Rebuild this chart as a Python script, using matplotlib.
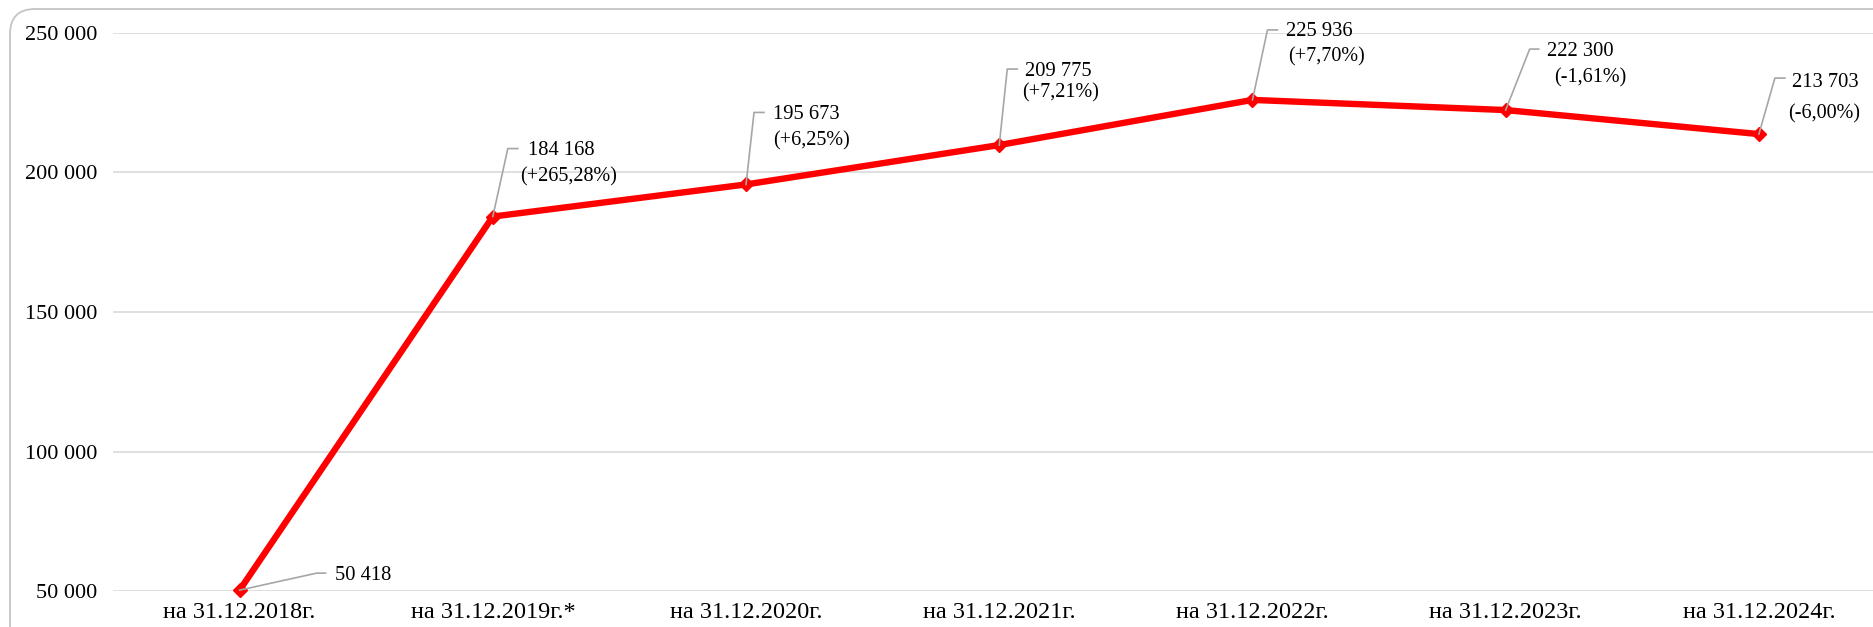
import matplotlib
matplotlib.use("Agg")
import matplotlib.pyplot as plt
from matplotlib.lines import Line2D
from matplotlib.patches import FancyBboxPatch
from matplotlib.transforms import IdentityTransform
from matplotlib.ticker import FuncFormatter

# data
dates = ["на 31.12.2018г.", "на 31.12.2019г.*", "на 31.12.2020г.", "на 31.12.2021г.",
         "на 31.12.2022г.", "на 31.12.2023г.", "на 31.12.2024г."]
values = [50418, 184168, 195673, 209775, 225936, 222300, 213703]
changes = ["", "(+265,28%)", "(+6,25%)", "(+7,21%)", "(+7,70%)", "(-1,61%)", "(-6,00%)"]

# label layout, in pixels from each point: value text, change text, leader knee and end
val_off = [(95, 15), (35, 66), (27, 70), (26, 74), (34, 68), (41, 59), (33, 52)]
chg_off = [(0, 0), (27, 40), (27, 44), (23, 52), (36, 43), (48, 32), (29, 20)]
knee_off = [(77, 17), (15, 68), (8, 72), (8, 76), (15, 70), (24, 61), (16, 56)]
end_dx = [86, 25, 18, 18, 25, 33, 26]

plt.rcParams['font.family'] = ['Liberation Serif', 'DejaVu Serif']

W, H = 1873, 627
fig = plt.figure(figsize=(W / 100, H / 100), dpi=100)
ax = fig.add_axes([113 / W, 35.7 / H, 1772.5 / W, 558.6 / H])

x = list(range(len(values)))
ax.plot(x, values, color="#ff0000", lw=4.6, marker="D", ms=7.5, zorder=3,
        solid_joinstyle="round", clip_on=False)

ax.set_xlim(-0.5, len(values) - 0.5)
ax.set_ylim(50000, 250000)
ax.set_yticks([50000, 100000, 150000, 200000, 250000])
ax.yaxis.set_major_formatter(FuncFormatter(lambda v, p: f"{v:,.0f}".replace(",", " ")))
ax.set_xticks(x)
ax.set_xticklabels(dates)
ax.tick_params(axis="y", length=0, pad=11, labelsize=16)
ax.tick_params(axis="x", length=0, pad=8, labelsize=17.5)
ax.grid(axis="y", color="#d9d9d9", lw=1.2)
ax.set_axisbelow(True)
for s in ax.spines.values():
    s.set_visible(False)

# data labels with leader lines
for i, v in enumerate(values):
    px, py = ax.transData.transform((i, v))
    kx, ky = knee_off[i]
    fig.add_artist(Line2D([px, px + kx, px + end_dx[i]], [py, py + ky, py + ky],
                          color="#a6a6a6", lw=1.2, transform=IdentityTransform(), zorder=4))
    ax.annotate(f"{v:,}".replace(",", " "), xy=(i, v), xytext=val_off[i],
                textcoords="offset pixels", ha="left", va="center", fontsize=14.8)
    if changes[i]:
        ax.annotate(changes[i], xy=(i, v), xytext=chg_off[i],
                    textcoords="offset pixels", ha="left", va="center", fontsize=14.5)

# rounded chart frame
frame = FancyBboxPatch((10, -60), 1950, H - 9 + 60, boxstyle="round,pad=0,rounding_size=25",
                       fill=False, ec="#c4c4c4", lw=1.3, transform=IdentityTransform())
fig.add_artist(frame)

fig.savefig("out.png", dpi=100)
